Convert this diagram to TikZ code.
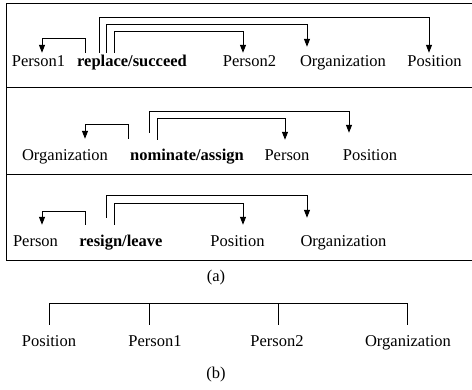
\documentclass[tikz,border=0pt]{standalone}
\usepackage{fontspec}
\setmainfont{Liberation Serif}
\usetikzlibrary{arrows.meta}
\tikzset{
  word/.style={anchor=base,inner sep=0pt,text height=11pt,text depth=3.5pt,font=\fontsize{16.5}{20}\selectfont},
  verb/.style={word,font=\fontsize{16.5}{20}\selectfont\bfseries},
  arc/.style={-{Triangle[length=8pt,width=6pt]},line width=0.9pt},
  tree/.style={line width=0.9pt},
  frame/.style={line width=1pt},
}
\begin{document}
\begin{tikzpicture}[x=1pt,y=-1pt]
      \useasboundingbox (0,0) rectangle (472,390);
      \draw[frame] (6,3.5) rectangle (473,261);
      \draw[frame] (6,88) -- (473,88); \draw[frame] (6,175) -- (473,175);
      % row 1
      \node[word] (p1) at (38.5,67) {Person1};
      \node[verb] (v1) at (132,67) {replace/succeed};
      \node[word] (p2) at (249.5,67) {Person2};
      \node[word] (o1) at (343,67) {Organization};
      \node[word] (s1) at (434.5,67) {Position};
      \draw[arc] ([xshift=-47pt,yshift=3pt]v1.north) -- ++(0,-14) -| ([xshift=3.5pt,yshift=3pt]p1.north);
      \draw[arc] ([xshift=-33pt,yshift=3pt]v1.north) -- ++(0,-35) -| ([xshift=-5.5pt,yshift=3pt]s1.north);
      \draw[arc] ([xshift=-26pt,yshift=3pt]v1.north) -- ++(0,-28) -| ([xshift=-36pt,yshift=9pt]o1.north);
      \draw[arc] ([xshift=-18pt,yshift=3pt]v1.north) -- ++(0,-21) -| ([xshift=-6.5pt,yshift=3pt]p2.north);
      % row 2
      \node[word] (o2) at (65,161) {Organization};
      \node[verb] (v2) at (187,161) {nominate/assign};
      \node[word] (q2) at (287,161) {Person};
      \node[word] (s2) at (370,161) {Position};
      \draw[arc] ([xshift=-59pt,yshift=11pt]v2.north) -- ++(0,-14) -| ([xshift=20pt,yshift=11pt]o2.north);
      \draw[arc] ([xshift=-38pt,yshift=17pt]v2.north) -- ++(0,-21) -| ([xshift=-21pt,yshift=17pt]s2.north);
      \draw[arc] ([xshift=-30pt,yshift=10pt]v2.north) -- ++(0,-21) -| ([xshift=-2pt,yshift=10pt]q2.north);
      % row 3
      \node[word] (q3) at (35.5,247) {Person};
      \node[verb] (v3) at (121,247) {resign/leave};
      \node[word] (s3) at (237.5,247) {Position};
      \node[word] (o3) at (343.5,247) {Organization};
      \draw[arc] ([xshift=-36pt,yshift=11pt]v3.north) -- ++(0,-13) -| ([xshift=6.5pt,yshift=11pt]q3.north);
      \draw[arc] ([xshift=-15pt,yshift=18pt]v3.north) -- ++(0,-22) -| ([xshift=-36.5pt,yshift=18pt]o3.north);
      \draw[arc] ([xshift=-7pt,yshift=11pt]v3.north) -- ++(0,-21) -| ([xshift=5.5pt,yshift=11pt]s3.north);
      \node[word] (capa) at (216,282) {(a)};
      % template
      \node[word] (t1) at (49,347) {Position};
      \node[word] (t2) at (155,347) {Person1};
      \node[word] (t3) at (277,347) {Person2};
      \node[word] (t4) at (408,347) {Organization};
      \draw[tree] ([yshift=11pt]t1.north) -- ++(0,-21) -| ([xshift=-1pt,yshift=11pt]t4.north);
      \draw[tree] ([xshift=-6pt,yshift=11pt]t2.north) -- ++(0,-21);
      \draw[tree] ([xshift=1pt,yshift=11pt]t3.north) -- ++(0,-21);
      \node[word] (capb) at (216,379) {(b)};
    \end{tikzpicture}
\end{document}
